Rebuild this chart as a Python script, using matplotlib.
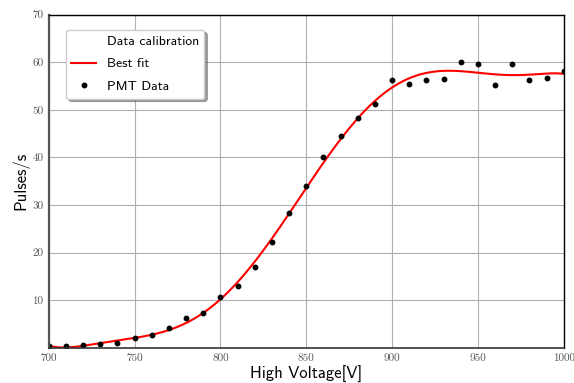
import numpy as np
import matplotlib
matplotlib.use('Agg')
import matplotlib.pyplot as plt
from matplotlib.lines import Line2D

# PMT calibration data
voltage = [700, 710, 720, 730, 740, 750, 760, 770, 780, 790,
           800, 810, 820, 830, 840, 850, 860, 870, 880, 890,
           900, 910, 920, 930, 940, 950, 960, 970, 980, 990, 1000]
pulses = [0.3, 0.4, 0.5, 0.7, 1.1, 2.0, 2.6, 4.1, 6.3, 7.2,
          10.7, 12.9, 16.9, 22.3, 28.4, 33.9, 40.0, 44.4, 48.2, 51.2,
          56.2, 55.5, 56.2, 56.5, 60.1, 59.7, 55.2, 59.6, 56.3, 56.6, 58.2]

FIT_DEG = 7

v = np.array(voltage, dtype=float)
p = np.array(pulses, dtype=float)
vc = (v - 850) / 150
coef = np.polyfit(vc, p, FIT_DEG)
xs = np.linspace(700, 1000, 400)
ys = np.polyval(coef, (xs - 850) / 150)

fig, ax = plt.subplots(figsize=(5.74, 3.83), dpi=100)
fig.subplots_adjust(left=0.085, right=0.982, top=0.962, bottom=0.092)

ax.grid(True, color='#b0b0b0', linewidth=0.8)
ax.set_axisbelow(True)
ax.plot(xs, ys, color='red', linewidth=1.5, label='Best fit')
ax.plot(voltage, pulses, 'o', color='black', markersize=3.2, label='PMT Data')

ax.set_xlim(700, 1000)
ax.set_ylim(0, 70)
ax.set_xticks(range(700, 1001, 50))
ax.set_yticks(range(10, 71, 10))
ax.tick_params(length=0, labelsize=8, labelcolor='#555555', pad=4)
for lab in ax.get_xticklabels() + ax.get_yticklabels():
    lab.set_fontfamily('cmr10')

ax.spines['left'].set_color('#555555')
ax.spines['left'].set_linewidth(1.6)
ax.spines['bottom'].set_color('#333333')
ax.spines['bottom'].set_linewidth(1.2)
for s in ['top', 'right']:
    ax.spines[s].set_color('black')
    ax.spines[s].set_linewidth(1.0)

ax.set_xlabel('High Voltage[V]', fontfamily='cmss10', fontsize=12, labelpad=2)
ax.set_ylabel('Pulses/s', fontfamily='cmss10', fontsize=12, labelpad=2)

handles, labels = ax.get_legend_handles_labels()
blank = Line2D([], [], linestyle='none', marker=None)
leg = ax.legend([blank] + handles, ['Data calibration'] + labels,
                loc='upper left', bbox_to_anchor=(0.02, 0.975),
                prop={'family': 'cmss10', 'size': 9.8}, fancybox=True,
                shadow=True, framealpha=1, handlelength=1.8,
                labelspacing=0.75)

fig.savefig('out.png', dpi=100)
